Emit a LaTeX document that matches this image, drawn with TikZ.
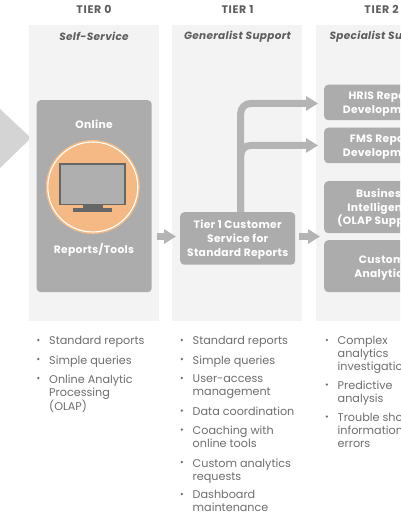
\documentclass[tikz,border=0pt]{standalone}
\usepackage{fontspec}
\setmainfont{Poppins}
\newfontfamily\spaced{Poppins}[LetterSpace=3]
\newfontfamily\widehead{Poppins}[LetterSpace=6]
\usetikzlibrary{arrows.meta}
\definecolor{panel}{HTML}{F3F3F3}
\definecolor{boxg}{HTML}{ACACAC}
\definecolor{arrowg}{HTML}{B4B4B4}
\definecolor{bigg}{HTML}{D4D4D4}
\definecolor{orng}{HTML}{F5B985}
\definecolor{mon}{HTML}{666666}
\definecolor{scrn}{HTML}{AFAFAF}
\definecolor{txt}{HTML}{6E6E6E}
\definecolor{head}{HTML}{5E5E5E}
\newcommand{\dn}{\rule{0pt}{11pt}}
\tikzset{
 x=1pt,y=-1pt,
 panelbox/.style={fill=panel,draw=none,minimum width=130pt,minimum height=296pt,anchor=north west,inner sep=0},
 greybox/.style={fill=boxg,draw=none,rounded corners=4pt,anchor=north west,inner sep=0,text=white,align=center,font=\fontsize{10.7}{13.7}\spaced\bfseries},
 tierhead/.style={text=head,font=\fontsize{11}{12}\widehead\bfseries,inner sep=0},
 subhead/.style={text=head,font=\fontsize{10.5}{12}\spaced\bfseries\itshape,inner sep=0},
 lab/.style={text=white,font=\fontsize{10.7}{12}\spaced\bfseries,inner sep=0},
 bullets/.style={text=txt,anchor=north west,inner sep=0,align=left,font=\fontsize{11.2}{13}\selectfont},
 dot/.style={circle,fill=txt,inner sep=0,minimum size=2.6pt},
 flow/.style={draw=arrowg,line width=7pt,-{Triangle[width=14pt,length=12pt]}},
}
\newcommand{\bitem}[4]{%
 \node[dot] (#1d) at (#2-10.7,#3+3.5) {};
 \node[bullets] (#1) at (#2,#3) {#4};}
\begin{document}
\begin{tikzpicture}
\useasboundingbox (0,0) rectangle (400,516);
\clip (0,0) rectangle (400,516);
\fill[white] (0,0) rectangle (400,516);
% big arrow
\coordinate (bigtop) at (0,109);
\coordinate (bigtip) at (31,138);
\coordinate (bigbot) at (0,168);
\fill[bigg] (bigtop) -- (bigtip) -- (bigbot) -- cycle;
% panels
\node[panelbox] (p0) at (29,25) {};
\node[panelbox] (p1) at (172,25) {};
\node[panelbox] (p2) at (316,25) {};
% heads
\node[tierhead] (h0) at (94,9.5) {TIER 0};
\node[tierhead] (h1) at (237.5,9.5) {TIER 1};
\node[tierhead] (h2) at (381.5,9.5) {TIER 2};
\node[subhead] (s0) at (94,36.5) {Self-Service};
\node[subhead] (s1) at (237.5,36.5) {Generalist Support};
\node[subhead] (s2) at (381.5,36.5) {Specialist Support};
% tier 0 box
\node[greybox,minimum width=115pt,minimum height=192pt] (online) at (36.5,100) {};
\node[lab] (l1) at (94,124.5) {Online};
\node[lab] (l2) at (94,250) {Reports/Tools};
\node[circle,fill=orng,draw=none,minimum size=94pt,inner sep=0] (circ) at (92.8,187) {};
\draw[white,line width=1.1pt] (circ.center) circle[radius=45pt];
\fill[scrn,draw=mon,line width=1.6pt] (59.8,164) rectangle (125,204.3);
\fill[mon] (83,205) rectangle (103.3,208);
\fill[mon] (73.3,207.7) rectangle (111.7,211.7);
% tier 1 box
\node[greybox,minimum width=115pt,minimum height=52.5pt] (t1) at (180,212) {\dn Tier 1 Customer\\Service for\\Standard Reports};
% tier 2 boxes
\node[greybox,minimum width=115pt,minimum height=35.5pt] (hris) at (324,84.5) {\dn HRIS Report\\Development};
\node[greybox,minimum width=115pt,minimum height=35.5pt] (fms) at (324,127.5) {\dn FMS Report\\Development};
\node[greybox,minimum width=115pt,minimum height=52pt] (bi) at (324,181) {\dn Business\\Intelligence\\(OLAP Support)};
\node[greybox,minimum width=115pt,minimum height=52pt] (cust) at (324,240) {\dn Custom\\Analytics};
% connectors
\coordinate (v) at (240.7,212);
\coordinate (gap) at (324,236.5);
\draw[flow,rounded corners=10pt,shorten >=6pt] (v) |- ([yshift=-1pt]hris.west);
\draw[flow,rounded corners=10pt,shorten >=6pt] (v) |- (fms.west);
\draw[flow,shorten <=5pt,shorten >=4pt] (online.east |- gap) -- (t1.west |- gap);
\draw[flow,shorten <=4pt,shorten >=4pt] (t1.east |- gap) -- (gap);
% bullets
\bitem{a1}{49}{336.5}{Standard reports}
\bitem{a2}{49}{355.5}{Simple queries}
\bitem{a3}{49}{374.5}{Online Analytic\\Processing\\(OLAP)}
\bitem{b1}{192.5}{336.5}{Standard reports}
\bitem{b2}{192.5}{355.5}{Simple queries}
\bitem{b3}{192.5}{374.5}{User-access\\management}
\bitem{b4}{192.5}{407}{Data coordination}
\bitem{b5}{192.5}{426}{Coaching with\\online tools}
\bitem{b6}{192.5}{458.5}{Custom analytics\\requests}
\bitem{b7}{192.5}{490.5}{Dashboard\\maintenance}
\bitem{c1}{337.5}{336.5}{Complex\\analytics\\investigations}
\bitem{c2}{337.5}{381}{Predictive\\analysis}
\bitem{c3}{337.5}{413}{Trouble shoot\\information\\errors}
\end{tikzpicture}
\end{document}
